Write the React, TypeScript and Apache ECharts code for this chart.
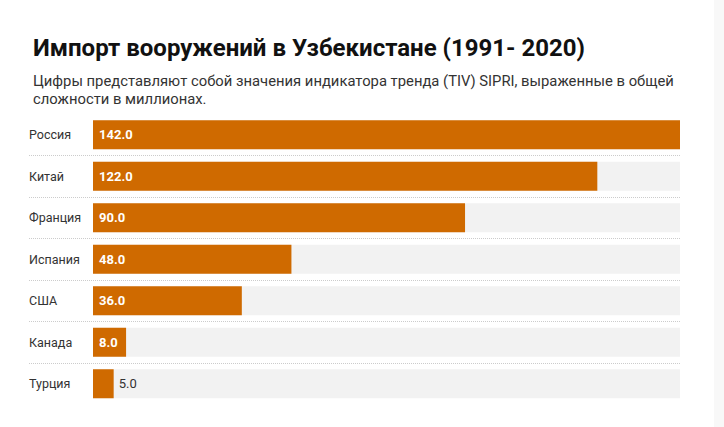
import React, { useEffect, useRef } from "react";
import * as echarts from "echarts";

const categories = ["Россия", "Китай", "Франция", "Испания", "США", "Канада", "Турция"];
const values = [142.0, 122.0, 90.0, 48.0, 36.0, 8.0, 5.0];
const titleText = "Импорт вооружений в Узбекистане (1991- 2020)";
const subtitleText =
  "Цифры представляют собой значения индикатора тренда (TIV) SIPRI, выраженные в общей\nсложности в миллионах.";
const outsideLabelCategories = ["Турция"];

export default function App() {
  const ref = useRef<HTMLDivElement>(null);
  useEffect(() => {
    if (!ref.current) return;
    const chart = echarts.init(ref.current, undefined, { renderer: "svg" });
    const font = "Roboto, 'Noto Sans', sans-serif";
    const data = values.map((v, i) => {
      const outside = outsideLabelCategories.includes(categories[i]);
      return outside
        ? {
            value: v,
            label: { position: "right", color: "#333", fontWeight: "normal", distance: 5 },
          }
        : { value: v };
    });
    chart.setOption({
      animation: false,
      backgroundColor: "#ffffff",
      textStyle: { fontFamily: font },
      title: [
        {
          text: titleText,
          left: 28,
          top: 31,
          textStyle: { fontFamily: font, fontSize: 24, fontWeight: "bold", color: "#111111" },
        },
        {
          text: subtitleText,
          left: 28,
          top: 67,
          textStyle: {
            fontFamily: font,
            fontSize: 14.8,
            fontWeight: "normal",
            color: "#333333",
            lineHeight: 18,
          },
        },
      ],
      graphic: [
        {
          type: "rect",
          right: 0,
          top: 0,
          shape: { width: 10, height: 427 },
          style: { fill: "#f8f8f8" },
          silent: true,
        },
      ],
      grid: [
        { left: 93, right: 44, top: 114, height: 290.5, containLabel: false },
        { left: 29, right: 44, top: 114, height: 290.5, containLabel: false },
      ],
      xAxis: [
        { type: "value", gridIndex: 0, min: 0, max: 142, show: false },
        { type: "value", gridIndex: 1, min: 0, max: 1, show: false },
      ],
      yAxis: [
        {
          type: "category",
          gridIndex: 0,
          inverse: true,
          data: categories,
          axisLine: { show: false },
          axisTick: { show: false },
          splitLine: { show: false },
          axisLabel: {
            align: "left",
            margin: 64,
            color: "#333333",
            fontSize: 12.5,
            fontFamily: font,
          },
        },
        {
          type: "category",
          gridIndex: 1,
          inverse: true,
          data: categories,
          axisLine: { show: false },
          axisTick: { show: false },
          axisLabel: { show: false },
          splitLine: {
            show: true,
            showMinLine: false,
            showMaxLine: false,
            lineStyle: { type: "dotted", color: "#cccccc", width: 1 },
          },
        },
      ],
      series: [
        {
          type: "bar",
          xAxisIndex: 0,
          yAxisIndex: 0,
          data,
          barWidth: 29,
          itemStyle: { color: "#cf6a00" },
          showBackground: true,
          backgroundStyle: { color: "#f2f2f2" },
          label: {
            show: true,
            position: "insideLeft",
            distance: 6,
            color: "#ffffff",
            fontWeight: "bold",
            fontSize: 13,
            fontFamily: font,
            formatter: (p: any) => Number(p.value).toFixed(1),
          },
        },
      ],
    });
    return () => chart.dispose();
  }, []);
  return (
    <div
      ref={ref}
      style={{ position: "fixed", left: 0, top: 0, width: 724, height: 427 }}
    />
  );
}
